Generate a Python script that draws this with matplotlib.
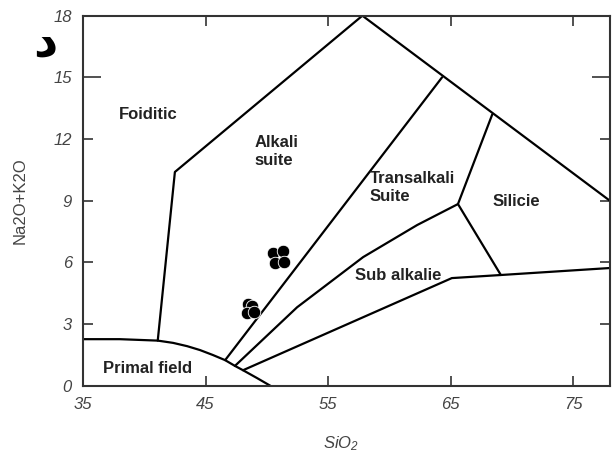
import matplotlib
matplotlib.use("Agg")
import matplotlib.pyplot as plt

plt.rcParams['font.family'] = ['Liberation Sans', 'DejaVu Sans']
plt.rcParams['mathtext.fontset'] = 'custom'
plt.rcParams['mathtext.it'] = 'Liberation Sans:italic'
plt.rcParams['mathtext.rm'] = 'Liberation Sans:italic'

# field boundaries (SiO2, Na2O+K2O)
primal_x = [35, 38, 41.1, 42.35, 43.5, 44.55, 45.6, 46.6, 47.4, 48.06, 49.2, 50.3]
primal_y = [2.27, 2.27, 2.2, 2.09, 1.93, 1.74, 1.5, 1.25, 0.97, 0.76, 0.38, 0.0]
foid_x = [41.1, 42.5, 57.8, 78.0]
foid_y = [2.2, 10.4, 18.0, 9.0]
alkali_x = [46.6, 64.3]
alkali_y = [1.25, 15.0]
trans_x = [47.4, 52.47, 57.86, 62.27, 65.6]
trans_y = [0.97, 3.82, 6.26, 7.82, 8.84]
silicie_x = [68.4, 65.6, 69.1]
silicie_y = [13.2, 8.84, 5.39]
subalk_x = [48.06, 65.1, 69.1, 78.0]
subalk_y = [0.76, 5.24, 5.39, 5.73]

# samples
sample_x = [50.48, 51.30, 50.67, 51.43, 48.50, 48.80, 48.36, 48.96]
sample_y = [6.44, 6.57, 5.96, 6.02, 3.98, 3.88, 3.52, 3.60]

# field names: (label, x, y, ha)
fields = [
    ("Foiditic", 40.35, 13.2, 'center'),
    ("Alkali\nsuite", 49.0, 11.4, 'left'),
    ("Transalkali\nSuite", 58.4, 9.66, 'left'),
    ("Silicie", 70.4, 8.95, 'center'),
    ("Sub alkalie", 60.7, 5.39, 'center'),
    ("Primal field", 40.3, 0.85, 'center'),
]

xticks = [35, 45, 55, 65, 75]
yticks = [0, 3, 6, 9, 12, 15, 18]

fig = plt.figure(figsize=(6.12, 4.61), dpi=100)
ax = fig.add_axes([0.1356, 0.163, 0.861, 0.803])

for xs, ys in [(primal_x, primal_y), (foid_x, foid_y), (alkali_x, alkali_y),
               (trans_x, trans_y), (silicie_x, silicie_y), (subalk_x, subalk_y)]:
    ax.plot(xs, ys, color='black', lw=1.6, solid_capstyle='round')

ax.plot(sample_x, sample_y, 'o', color='black', markersize=9,
        markeredgecolor='white', markeredgewidth=0.6, zorder=5)

for label, x, y, ha in fields:
    ax.text(x, y, label, ha=ha, va='center', fontsize=12, fontweight='bold',
            color='#222222', linespacing=1.25)

ax.set_xlim(35, 78)
ax.set_ylim(0, 18)
ax.set_xticks(xticks)
ax.set_yticks(yticks)
ax.tick_params(direction='in', top=True, right=True, length=7, width=1.2,
               color='#333333', labelsize=12, labelcolor='#444444', pad=8)
for lbl in ax.get_xticklabels() + ax.get_yticklabels():
    lbl.set_fontstyle('italic')
t15 = ax.yaxis.get_major_ticks()[5]
t15.tick1line.set_markersize(13)
t15.tick2line.set_markersize(13)
for s in ax.spines.values():
    s.set_linewidth(1.5)
    s.set_color('#333333')

ax.set_xlabel('$SiO_2$', fontsize=12, color='#444444')
ax.xaxis.set_label_coords(0.49, -0.13)
ax.set_ylabel('Na2O+K2O', fontsize=12, color='#444444')
ax.yaxis.set_label_coords(-0.106, 0.5)

fig.text(45 / 612, 1 - 44 / 461, 'د', family='DejaVu Sans', fontweight='bold',
         fontsize=34, ha='center', va='center')

fig.savefig('out.png', dpi=100)
